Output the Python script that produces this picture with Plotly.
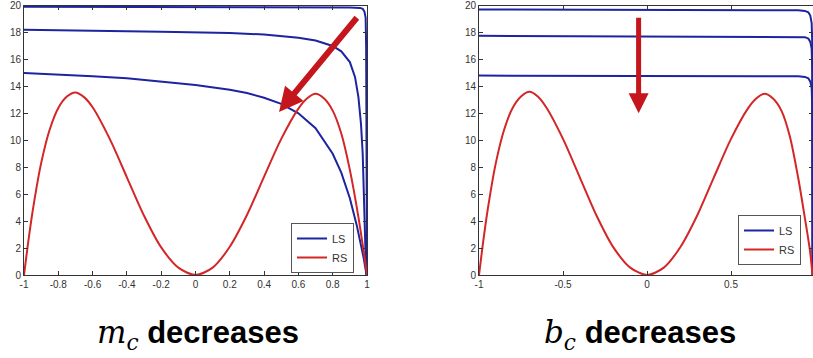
import plotly.graph_objects as go

# ---------------- data ----------------
# Left panel (m_c decreases)
rs_x = [-1.0, -0.98, -0.95, -0.9, -0.85, -0.8, -0.75, -0.7, -0.65, -0.6, -0.5, -0.4, -0.3,
        -0.2, -0.1, 0.0, 0.1, 0.2, 0.3, 0.4, 0.5, 0.6, 0.65, 0.7, 0.75, 0.8, 0.85, 0.9,
        0.95, 0.98, 1.0]
rs_left_y = [0.0, 2.0, 4.7, 8.3, 10.8, 12.4, 13.25, 13.55, 13.2, 12.45, 10.1, 7.25, 4.4,
             2.05, 0.55, 0.0, 0.55, 2.1, 4.45, 7.3, 10.1, 12.35, 13.1, 13.45, 13.1, 12.2,
             10.5, 7.8, 4.3, 1.8, 0.0]

ls_left_x1 = [-1.0, -0.5, 0.0, 0.5, 0.9, 0.96, 0.975, 0.985, 0.992, 0.995, 0.997, 1.0]
ls_left_y1 = [19.9, 19.9, 19.9, 19.88, 19.85, 19.82, 19.75, 19.55, 19.1, 17.0, 8.0, 0.0]

ls_left_x2 = [-1.0, -0.6, -0.2, 0.2, 0.4, 0.6, 0.7, 0.8, 0.85, 0.9, 0.93, 0.95, 0.965,
              0.975, 0.982, 0.988, 0.995]
ls_left_y2 = [18.2, 18.15, 18.05, 17.95, 17.85, 17.6, 17.4, 17.0, 16.6, 15.8, 14.7, 13.2,
              11.2, 9.0, 6.0, 3.0, 0.0]

ls_left_x3 = [-1.0, -0.8, -0.6, -0.4, -0.2, 0.0, 0.2, 0.3, 0.4, 0.5, 0.55, 0.6, 0.7, 0.8,
              0.85, 0.9, 0.94, 0.96, 0.98, 0.995]
ls_left_y3 = [15.0, 14.9, 14.75, 14.6, 14.35, 14.1, 13.75, 13.5, 13.15, 12.7, 12.35, 12.0,
              10.9, 9.0, 7.6, 5.7, 3.7, 2.6, 1.3, 0.2]

# Right panel (b_c decreases)
rs_right_x = [-1.0, -0.98, -0.95, -0.9, -0.85, -0.8, -0.75, -0.7, -0.65, -0.6, -0.5, -0.4,
              -0.3, -0.2, -0.1, 0.0, 0.1, 0.2, 0.3, 0.4, 0.5, 0.6, 0.65, 0.7, 0.75, 0.8,
              0.85, 0.9, 0.94, 0.97, 0.985]
rs_right_y = [0.0, 2.0, 4.7, 8.3, 10.8, 12.4, 13.25, 13.6, 13.25, 12.45, 10.1, 7.25, 4.4,
              2.05, 0.55, 0.0, 0.55, 2.1, 4.45, 7.3, 10.1, 12.35, 13.1, 13.45, 13.1, 12.2,
              10.3, 7.2, 4.2, 1.8, 0.0]

ls_right_x = [-1.0, 0.0, 0.9, 0.94, 0.96, 0.972, 0.98, 0.984, 0.986]
ls_right_y1 = [19.7, 19.68, 19.65, 19.6, 19.5, 19.25, 18.7, 17.0, 0.0]
ls_right_y2 = [17.75, 17.72, 17.7, 17.65, 17.55, 17.3, 16.8, 15.0, 0.0]
ls_right_y3 = [14.8, 14.78, 14.75, 14.7, 14.6, 14.35, 13.9, 12.3, 0.0]

y_ticks = [0, 2, 4, 6, 8, 10, 12, 14, 16, 18, 20]
x_ticks_left = [-1, -0.8, -0.6, -0.4, -0.2, 0, 0.2, 0.4, 0.6, 0.8, 1]
x_tick_text_left = ["-1", "-0.8", "-0.6", "-0.4", "-0.2", "0", "0.2", "0.4", "0.6", "0.8", "1"]
x_ticks_right = [-1, -0.5, 0, 0.5, 1]
x_tick_text_right = ["-1", "-0.5", "0", "0.5", "1"]

caption_left = "m"
caption_right = "b"

# ---------------- styling ----------------
W, H = 813, 358
BLUE = "#1c24a0"
RED = "#d42626"
ARROW = "#c4161c"
LW = 2

def px(v):
    return v / W

def py(v):
    return (H - v) / H

fig = go.Figure()

# left panel traces
for i, (xs, ys) in enumerate([(ls_left_x1, ls_left_y1), (ls_left_x2, ls_left_y2),
                              (ls_left_x3, ls_left_y3)]):
    fig.add_trace(go.Scatter(x=xs, y=ys, mode="lines", name="LS",
                             line=dict(color=BLUE, width=LW),
                             showlegend=(i == 0), legend="legend",
                             xaxis="x", yaxis="y"))
fig.add_trace(go.Scatter(x=rs_x, y=rs_left_y, mode="lines", name="RS",
                         line=dict(color=RED, width=LW, shape="spline", smoothing=0.8),
                         legend="legend", xaxis="x", yaxis="y"))

# right panel traces
for i, ys in enumerate([ls_right_y1, ls_right_y2, ls_right_y3]):
    fig.add_trace(go.Scatter(x=ls_right_x, y=ys, mode="lines", name="LS",
                             line=dict(color=BLUE, width=LW),
                             showlegend=(i == 0), legend="legend2",
                             xaxis="x2", yaxis="y2"))
fig.add_trace(go.Scatter(x=rs_right_x, y=rs_right_y, mode="lines", name="RS",
                         line=dict(color=RED, width=LW, shape="spline", smoothing=0.8),
                         legend="legend2", xaxis="x2", yaxis="y2"))

axis_common = dict(showline=True, linecolor="#333333", linewidth=1, mirror="ticks",
                   ticks="inside", ticklen=4, tickcolor="#333333", showgrid=False,
                   zeroline=False, automargin=False,
                   tickfont=dict(family="Liberation Sans", size=10, color="#333333"))

y_dom = [py(275), py(5.5)]

fig.update_layout(
    width=W, height=H,
    margin=dict(l=0, r=0, t=0, b=0),
    paper_bgcolor="white", plot_bgcolor="white",
    xaxis=dict(domain=[px(24), px(367)], range=[-1, 1], anchor="y",
               tickvals=x_ticks_left, ticktext=x_tick_text_left, **axis_common),
    yaxis=dict(domain=y_dom, range=[0, 20], anchor="x",
               tickvals=y_ticks, **axis_common),
    xaxis2=dict(domain=[px(479), 1.0], range=[-1, 0.988], anchor="y2",
                tickvals=x_ticks_right, ticktext=x_tick_text_right, **axis_common),
    yaxis2=dict(domain=y_dom, range=[0, 20], anchor="x2",
                tickvals=y_ticks, **axis_common),
    legend=dict(x=px(354), y=py(273), xanchor="right", yanchor="bottom",
                bgcolor="white", bordercolor="#555555", borderwidth=1,
                font=dict(family="Liberation Sans", size=11, color="#333333"),
                itemwidth=30, tracegroupgap=0),
    legend2=dict(x=px(801), y=py(265), xanchor="right", yanchor="bottom",
                 bgcolor="white", bordercolor="#555555", borderwidth=1,
                 font=dict(family="Liberation Sans", size=11, color="#333333"),
                 itemwidth=30, tracegroupgap=0),
    showlegend=True,
)

# arrows
fig.add_annotation(x=0.487, y=12.1, ax=0.948, ay=19.2, xref="x", yref="y",
                   axref="x", ayref="y", text="", showarrow=True,
                   arrowhead=2, arrowsize=0.8, arrowwidth=6, arrowcolor=ARROW)
fig.add_annotation(x=-0.05, y=12.0, ax=-0.05, ay=19.2, xref="x2", yref="y2",
                   axref="x2", ayref="y2", text="", showarrow=True,
                   arrowhead=2, arrowsize=0.8, arrowwidth=5, arrowcolor=ARROW)

# captions
def caption(sym):
    return ("<span style='font-family:\"DejaVu Serif\"'><i>" + sym + "</i><sub><i>c</i></sub></span>"
            " <b>decreases</b>")

fig.add_annotation(x=px(198), y=py(334), xref="paper", yref="paper", showarrow=False,
                   text=caption(caption_left), xanchor="center", yanchor="middle",
                   font=dict(family="Liberation Sans", size=31, color="black"))
fig.add_annotation(x=px(640), y=py(334), xref="paper", yref="paper", showarrow=False,
                   text=caption(caption_right), xanchor="center", yanchor="middle",
                   font=dict(family="Liberation Sans", size=31, color="black"))

fig.write_html("out.html", config={"displayModeBar": False},
               post_script="document.body.style.margin='0';document.body.style.overflow='hidden';")
